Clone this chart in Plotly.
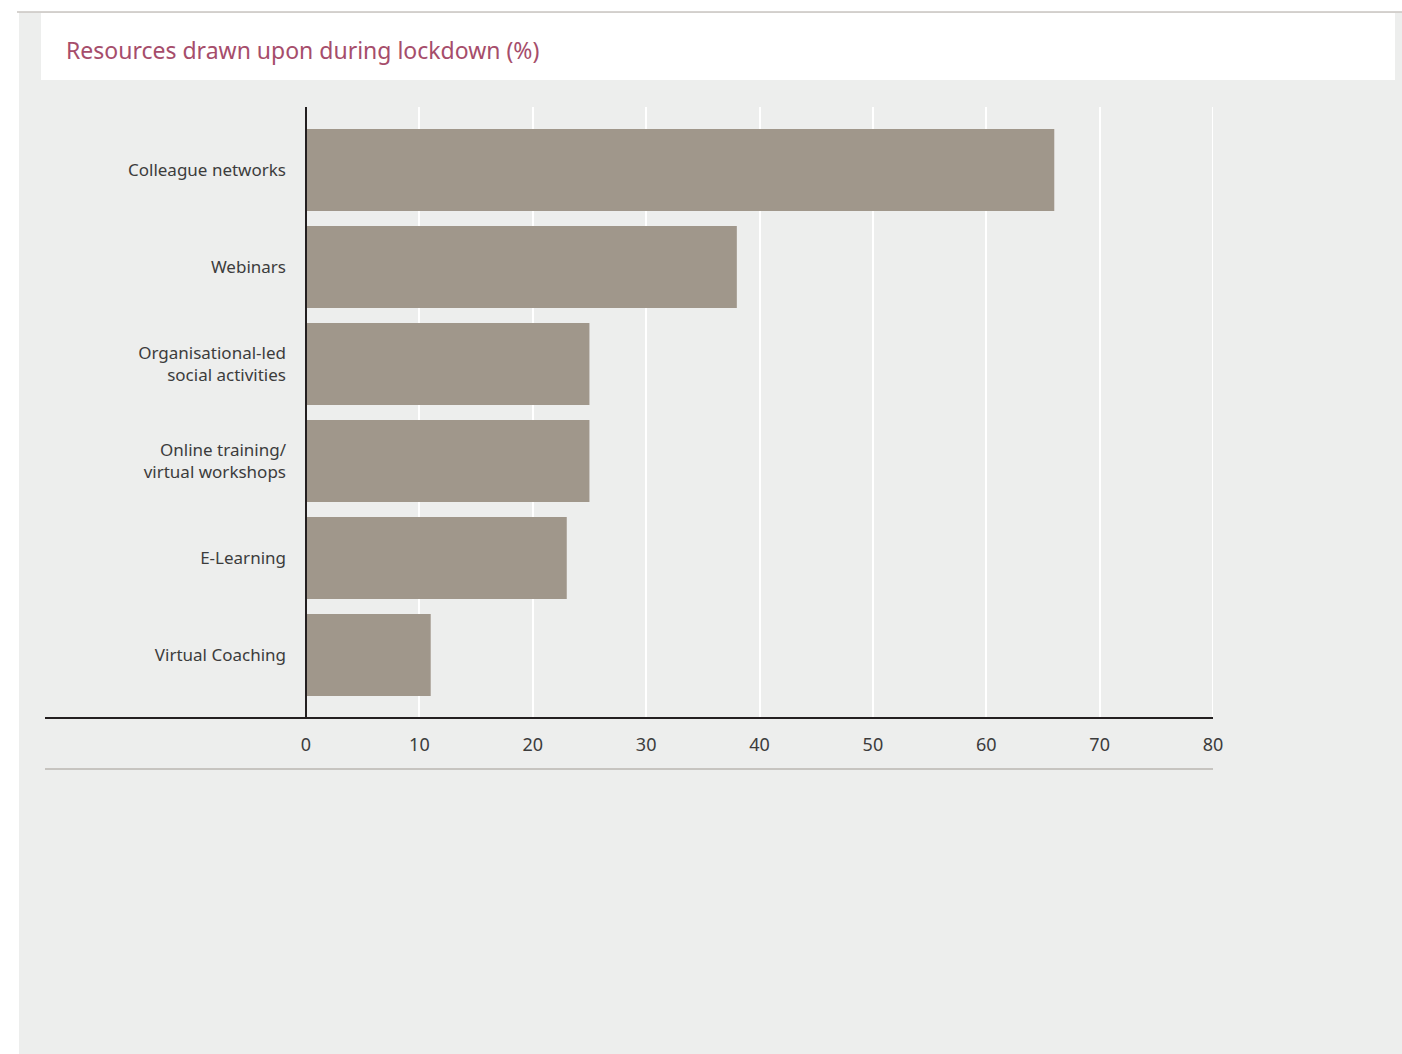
import plotly.graph_objects as go

categories = ["Colleague networks", "Webinars", "Organisational-led<br>social activities",
              "Online training/<br>virtual workshops", "E-Learning", "Virtual Coaching"]
values = [66, 38, 25, 25, 23, 11]
x_ticks = [0, 10, 20, 30, 40, 50, 60, 70, 80]
title_text = "Resources drawn upon during lockdown (%)"

W, H = 1402, 1054
L, R, T, B = 306, 1213, 107, 718
pw, ph = R - L, B - T

def px(x):
    return (x - L) / pw

def py(y):
    return (B - y) / ph

FONT = "Noto Sans"
PANEL = "#edeeed"

fig = go.Figure()
fig.add_trace(go.Bar(
    y=categories, x=values, orientation="h",
    marker=dict(color="#a0978b", line=dict(width=0)),
    width=0.845, hoverinfo="x+y",
))

shapes = [
    dict(type="rect", xref="paper", yref="paper", x0=px(19), x1=px(1402), y0=py(1054), y1=py(12),
         fillcolor=PANEL, line=dict(width=0), layer="below"),
    dict(type="line", xref="paper", yref="paper", x0=px(17), x1=px(1402), y0=py(12), y1=py(12),
         line=dict(color="#c9c5c0", width=1.5), layer="below"),
    dict(type="rect", xref="paper", yref="paper", x0=px(41), x1=px(1395), y0=py(80), y1=py(13),
         fillcolor="white", line=dict(width=0), layer="below"),
    dict(type="line", xref="x", yref="paper", x0=80, x1=80, y0=0, y1=1,
         line=dict(color="white", width=2), layer="below"),
    dict(type="line", xref="paper", yref="paper", x0=px(45), x1=1, y0=0, y1=0,
         line=dict(color="#231f20", width=2), layer="above"),
    dict(type="line", xref="paper", yref="paper", x0=0, x1=0, y0=0, y1=1,
         line=dict(color="#231f20", width=2), layer="above"),
    dict(type="line", xref="paper", yref="paper", x0=px(45), x1=1, y0=py(769), y1=py(769),
         line=dict(color="#a09a93", width=1), layer="above"),
]

fig.update_layout(
    width=W, height=H,
    margin=dict(l=L, r=W - R, t=T, b=H - B, pad=0),
    paper_bgcolor="white",
    plot_bgcolor=PANEL,
    showlegend=False,
    shapes=shapes,
    font=dict(family=FONT, color="#3c3c3c"),
    annotations=[dict(
        text=title_text, xref="paper", yref="paper", x=px(64), y=py(50),
        xanchor="left", yanchor="middle", showarrow=False,
        font=dict(family=FONT, size=23, color="#a64d6b"),
    )],
    xaxis=dict(
        range=[0, 80], tickvals=x_ticks, ticktext=[str(v) for v in x_ticks],
        showgrid=True, gridcolor="white", gridwidth=2, zeroline=False, showline=False,
        tickfont=dict(family=FONT, size=18, color="#3c3c3c"), ticks="", ticklabelstandoff=14,
        fixedrange=True,
    ),
    yaxis=dict(
        type="category", categoryorder="array", categoryarray=categories,
        range=[5.65, -0.65], showgrid=False, zeroline=False, showline=False,
        tickfont=dict(family=FONT, size=17, color="#3c3c3c"), ticks="", ticklabelstandoff=19,
        fixedrange=True,
    ),
)

fig.write_html("out.html")
